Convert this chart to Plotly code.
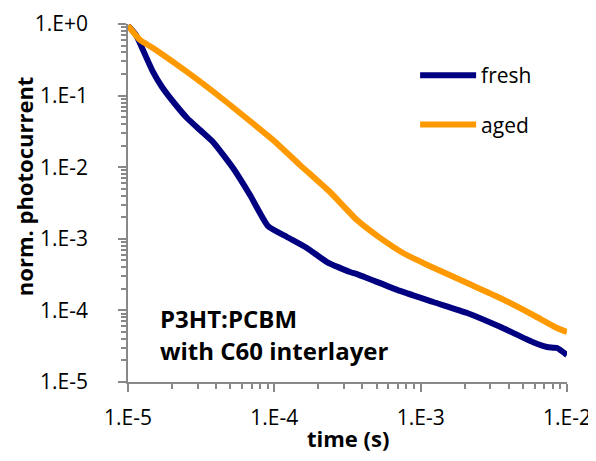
import plotly.graph_objects as go

# ---- data ----
fresh_t = [1.0e-5, 1.134e-5, 1.266e-5, 1.482e-5, 1.708e-5, 2.096e-5, 2.53e-5, 3.105e-5,
           3.81e-5, 5.22e-5, 6.82e-5, 9.06e-5, 1.221e-4, 1.67e-4, 2.29e-4, 3.29e-4,
           3.67e-4, 7.23e-4, 1.22e-3, 2.08e-3, 3.49e-3, 5.87e-3, 7.31e-3, 8.55e-3, 1.0e-2]
fresh_v = [0.95, 0.702, 0.433, 0.214, 0.132, 0.0763, 0.0487, 0.0331,
           0.0225, 0.00975, 0.00409, 0.0015, 1.06e-3, 7.44e-4, 4.74e-4, 3.44e-4,
           3.22e-4, 1.87e-4, 1.31e-4, 9.2e-5, 5.9e-5, 3.6e-5, 3.08e-5, 2.98e-5, 2.38e-5]

aged_t = [1.0e-5, 1.21e-5, 1.48e-5, 2.53e-5, 4.26e-5, 5.83e-5, 9.8e-5, 1.5e-4, 2.4e-4,
          3.67e-4, 5.28e-4, 7.58e-4, 1.11e-3, 2.08e-3, 3.49e-3, 5.87e-3, 8.55e-3, 1.0e-2]
aged_v = [0.95, 0.598, 0.462, 0.214, 0.0956, 0.0571, 0.024, 0.0107, 0.0045,
          0.00183, 0.00103, 6.33e-4, 4.31e-4, 2.41e-4, 1.49e-4, 8.63e-5, 5.68e-5, 4.99e-5]

x_tickvals = [1e-5, 1e-4, 1e-3, 1e-2]
x_ticktext = ["1.E-5", "1.E-4", "1.E-3", "1.E-2"]
y_tickvals = [1e0, 1e-1, 1e-2, 1e-3, 1e-4, 1e-5]
y_ticktext = ["1.E+0", "1.E-1", "1.E-2", "1.E-3", "1.E-4", "1.E-5"]

# minor tick positions (2..9 within each decade)
minor_mult = [2, 3, 4, 5, 6, 7, 8, 9]
x_minor = [m * 10.0 ** e for e in range(-5, -2) for m in minor_mult]
y_minor = [m * 10.0 ** e for e in range(-5, 0) for m in minor_mult]

FONT = "Open Sans"
AXIS_COLOR = "#888888"

fig = go.Figure()
fig.add_trace(go.Scatter(x=fresh_t, y=fresh_v, mode="lines", name="fresh",
                         legendgroup="a",
                         line=dict(color="#000080", width=6, shape="spline", smoothing=0.5)))
fig.add_trace(go.Scatter(x=aged_t, y=aged_v, mode="lines", name="aged",
                         legendgroup="b",
                         line=dict(color="#FF9900", width=6, shape="spline", smoothing=0.5)))

axis_common = dict(
    type="log", showgrid=False, zeroline=False, showline=True, automargin=False,
    linecolor=AXIS_COLOR, linewidth=1.5,
    ticks="outside", ticklen=8, tickwidth=1.5, tickcolor=AXIS_COLOR,
    tickfont=dict(family=FONT, size=21, color="#000000"),
)

fig.update_xaxes(range=[-5, -2], tickmode="array", tickvals=x_tickvals, ticktext=x_ticktext,
                 ticklabelstandoff=8,
                 minor=dict(tickmode="array", tickvals=x_minor, ticks="outside", ticklen=5,
                            tickwidth=1.5, tickcolor=AXIS_COLOR, showgrid=False),
                 **axis_common)
fig.update_yaxes(range=[-5, 0], tickmode="array", tickvals=y_tickvals, ticktext=y_ticktext,
                 ticklabelstandoff=26,
                 minor=dict(tickmode="array", tickvals=y_minor, ticks="outside", ticklen=5,
                            tickwidth=1.5, tickcolor=AXIS_COLOR, showgrid=False),
                 **axis_common)

fig.update_layout(
    width=588, height=453,
    margin=dict(l=120, r=29, t=16, b=79),
    paper_bgcolor="white", plot_bgcolor="white",
    font=dict(family=FONT, color="#000000"),
    showlegend=True,
    legend=dict(x=0.654, y=0.913, xanchor="left", yanchor="top",
                bgcolor="rgba(0,0,0,0)", itemwidth=56,
                tracegroupgap=19, traceorder="grouped",
                font=dict(family=FONT, size=21, color="#000000")),
    annotations=[
        dict(text="<b>time (s)</b>", xref="paper", yref="paper", x=0.5, y=-0.156,
             xanchor="center", yanchor="middle", showarrow=False,
             font=dict(family=FONT, size=22)),
        dict(text="<b>norm. photocurrent</b>", xref="paper", yref="paper",
             x=-0.2369, y=0.547, textangle=-90, xanchor="center", yanchor="middle",
             showarrow=False, font=dict(family=FONT, size=22)),
        dict(text="<b>P3HT:PCBM</b>", xref="paper", yref="paper",
             x=0.068, y=0.176, xanchor="left", yanchor="middle", align="left",
             showarrow=False, font=dict(family=FONT, size=24)),
        dict(text="<b>with C60 interlayer</b>", xref="paper", yref="paper",
             x=0.068, y=0.087, xanchor="left", yanchor="middle", align="left",
             showarrow=False, font=dict(family=FONT, size=24)),
    ],
)

fig.write_html("out.html")
